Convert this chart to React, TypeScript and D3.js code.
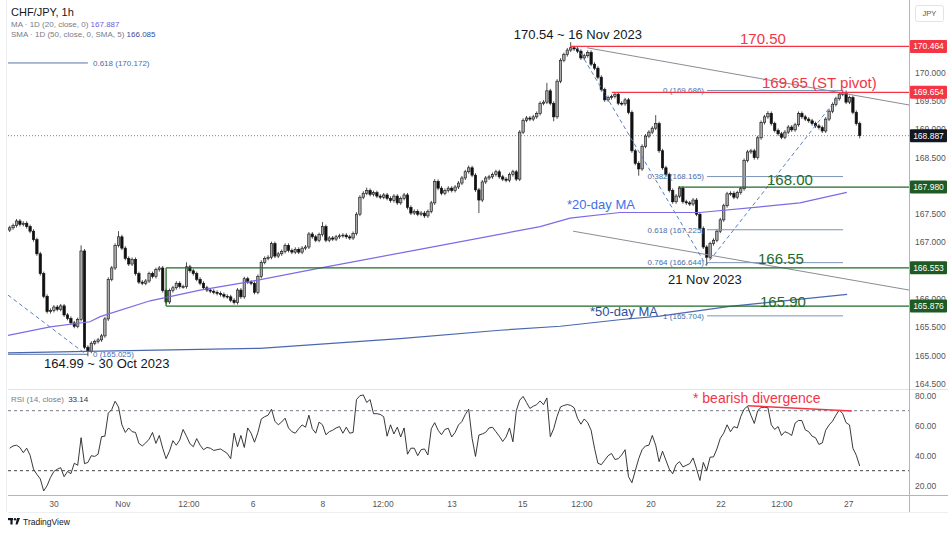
import React from "react";
import * as d3 from "d3";

// ---------- DATA ----------
const firstOpen = 167.22;
const closes = [
  167.26,167.30,167.38,167.32,167.34,167.28,167.20,167.05,166.80,166.45,
  166.05,165.78,165.80,165.86,165.82,165.88,165.72,165.66,165.58,165.52,
  165.64,166.85,165.15,165.08,165.22,165.25,165.28,165.35,165.65,166.35,
  166.55,166.95,167.10,166.90,166.72,166.62,166.70,166.45,166.30,166.28,
  166.32,166.45,166.40,166.52,166.55,166.15,165.95,166.15,166.20,166.28,
  166.22,166.22,166.57,166.50,166.45,166.35,166.28,166.20,166.16,166.14,
  166.12,166.10,166.08,166.05,166.04,165.98,165.94,166.16,166.04,166.36,
  166.30,166.28,166.12,166.40,166.65,166.72,166.74,166.98,166.76,166.80,
  166.84,166.95,166.86,166.83,166.88,166.83,166.90,166.92,167.15,167.10,
  167.04,167.14,167.28,167.04,167.08,167.06,167.10,167.12,167.13,167.10,
  167.08,167.16,167.50,167.80,167.87,167.92,167.85,167.88,167.82,167.80,
  167.84,167.78,167.74,167.82,167.70,167.78,167.84,167.62,167.52,167.55,
  167.50,167.52,167.47,167.55,167.70,168.08,167.96,167.87,167.92,167.96,
  167.92,167.98,168.05,168.14,168.25,168.32,168.19,167.93,167.75,168.07,
  168.14,168.16,168.20,168.25,168.16,168.12,168.10,168.20,168.25,168.12,
  168.95,169.16,169.20,169.18,169.22,169.28,169.46,169.48,169.68,169.46,
  169.22,169.85,170.22,170.32,170.40,170.44,170.42,170.38,170.26,170.30,
  170.36,170.15,170.08,169.92,169.70,169.52,169.56,169.58,169.62,169.46,
  169.45,169.52,169.30,168.62,168.40,168.30,168.70,168.88,168.95,169.02,
  169.10,168.62,168.32,168.20,167.92,167.72,167.82,167.96,167.72,167.70,
  167.68,167.75,167.50,167.25,166.92,166.74,166.98,167.04,167.20,167.40,
  167.65,167.86,167.87,167.80,167.88,167.95,168.45,168.60,168.62,168.50,
  168.85,169.12,169.22,169.28,169.10,168.98,168.92,168.86,168.95,169.04,
  168.99,169.08,169.28,169.22,169.18,169.15,169.10,169.06,169.03,168.97,
  169.18,169.32,169.44,169.54,169.62,169.65,169.48,169.56,169.30,169.10,
  168.887,
];
// [bar index, extreme price reached by the wick]
const wickExtremes: [number, number][] = [
  [21, 166.95], [23, 164.99], [32, 167.2], [52, 166.65], [92, 167.36], [105, 167.97],
  [125, 168.12], [135, 168.36], [138, 167.52], [158, 169.82], [160, 169.14], [165, 170.54],
  [185, 168.18], [190, 169.25], [205, 166.59], [223, 169.32], [245, 169.70], [250, 168.84],
];
const rsi = [
  45,46.5,47,45.5,42,45,40.3,31,27.5,24.5,
  16.5,20,25.5,29.5,31,32,26,29.5,28,35,
  33.6,52,34.7,35.5,40,39.5,41,52.7,53,68.4,
  70.7,76.3,72.5,60.6,55.5,58.5,56,55.5,48.2,46.5,
  48.5,51,55.5,48.2,53.5,45,38,43,50,47,
  50.4,57.5,53,48,46,51.4,47,44,45.5,45,
  43.5,44,44.5,43,41.5,38,55,46,53.5,45.5,
  58.5,55,49,55.5,64.5,66,67,71,63,60.6,
  62.5,65,58.5,56,55,58,60.5,59,67,58,
  55,62.4,60.6,54,56,57,58.5,59.4,55,59,
  55,55.5,77.4,80,80.5,75.5,77.4,68,68,67.5,
  66,53,60.6,54.5,59,52.5,58.5,41,45,45,
  40,44,44.5,40.5,58,62,57,54,57.5,58.3,
  52.5,55.5,60.5,62.8,67.5,71,51.6,39.5,53.8,54.5,
  55.6,58.5,59,56,53,49.5,52.5,58.5,49.3,70,
  77,79.5,75.5,71.5,73,74,76.5,74,78.5,52.7,
  58,66.2,72.5,73.5,74.1,73.5,72,65,61,64.5,
  62,57,45,35,34,37,40,41.5,37.5,38,
  40.5,44,26,22,30,38,44,46.5,47,53.5,
  47,36,43,37,31,28,34,36,32.5,33.6,
  34.7,38.5,31.3,23.5,35.5,30,39,39.2,44.5,51.6,
  55,60.6,56,59.4,58.5,66,71,73,67,61.5,
  70,72.2,72.2,72,60.6,57.5,59.4,53.5,56,55,
  53.5,61.7,63.5,63.4,57.2,56,53,52,47.5,48.5,
  57,60.5,63,67,70.5,68,62,60.5,45,40.3,
  33.14,
];
const ma20Idx = [-0.5, 11.9, 23.6, 26.6, 41.3, 56, 70.7, 90.4, 119.8, 156, 164.8, 179.5, 203, 220.7, 232.4, 238.3, 246.2];
const ma20Val = [165.36, 165.51, 165.6, 165.69, 165.97, 166.16, 166.31, 166.54, 166.87, 167.28, 167.43, 167.53, 167.53, 167.63, 167.7, 167.78, 167.887];
const ma50Idx = [-0.5, 26.6, 73.6, 114.8, 144.2, 162, 180, 191.2, 211.8, 246.3];
const ma50Val = [165.05, 165.08, 165.13, 165.3, 165.45, 165.52, 165.64, 165.7, 165.87, 166.085];

const timeTickIdx = [13.0, 33.3, 52.7, 71.6, 92.1, 109.8, 130.1, 150.9, 168.3, 188.6, 209.2, 227.1, 246.8];
const timeTickLabels = ["30", "Nov", "12:00", "6", "8", "12:00", "13", "15", "12:00", "20", "22", "12:00", "27"];
const priceTicks = [164.5, 165, 165.5, 166, 166.5, 167, 167.5, 168, 168.5, 169, 169.5, 170];
const rsiTicks = [20, 40, 60, 80];
const markerPrices = [170.464, 169.654, 168.887, 167.98, 166.553, 165.876];
const markerKinds = ["r", "r", "k", "g", "g", "g"];
const lastPrice = 168.887;

// fib (right) levels
const fibRatios = ["0", "0.382", "0.618", "0.764", "1"];
const fibPrices = [169.686, 168.165, 167.225, 166.644, 165.704];
const fibStartIdx = 205.1, fibEndIdx = 245.1;
// fib (left) levels
const fibLeftRatios = ["0.618", "0"];
const fibLeftPrices = [170.172, 165.025];

// horizontal level drawings [startIdx, price]
const redLevels: [number, number][] = [[164.8, 170.464], [177.1, 169.654]];
const greenLevels: [number, number][] = [[196.6, 167.98], [46, 166.553], [46, 165.876]];

// dashed fib trend lines [idx, price]
const dashLeft: [number, number][] = [[-0.5, 166.07], [21.9, 165.05]];
const dashRight: [number, number][] = [[166.9, 170.45], [204.8, 166.6], [245.1, 169.686]];
// grey channel
const chanUpper: [number, number][] = [[169.8, 170.44], [264.5, 169.43]];
const chanLower: [number, number][] = [[165.7, 167.2], [264.5, 166.16]];
// rsi divergence
const rsiDiv: [number, number][] = [[217.1, 73.3], [247.7, 69.8]];

const F = "'Liberation Sans', Arial, sans-serif";

export default function App() {
  const L = 8, R = 909;
  const x = d3.scaleLinear().domain([-0.5, 264.5]).range([L, R]);
  const y = d3.scaleLinear().domain([164.5, 170]).range([384, 72.7]);
  const yr = d3.scaleLinear().domain([20, 80]).range([485.7, 395.7]);
  const bw = 2.4;

  const wmap = new Map<number, number[]>();
  wickExtremes.forEach(([i, p]) => { wmap.set(i, [...(wmap.get(i) || []), p]); });
  const candles = closes.map((c, i) => {
    const o = i === 0 ? firstOpen : closes[i - 1];
    let h = Math.max(o, c) + 0.035;
    let l = Math.min(o, c) - 0.035;
    (wmap.get(i) || []).forEach((p) => { if (p > h) h = p; if (p < l) l = p; });
    return { i, o, c, h, l };
  });

  const pl = d3.line<[number, number]>().x((d) => x(d[0])).y((d) => y(d[1]));
  const rdl = d3.line<[number, number]>().x((d) => x(d[0])).y((d) => yr(d[1]));
  const rl = d3.line<number>().x((_, i) => x(i)).y((d) => yr(d));
  const ma20 = ma20Idx.map((v, i) => [v, ma20Val[i]] as [number, number]);
  const ma50 = ma50Idx.map((v, i) => [v, ma50Val[i]] as [number, number]);

  const mColor = (k: string) => (k === "r" ? "#f23645" : k === "k" ? "#131722" : "#1e5a24");
  const green = "#1f6b28";
  const red = "#f23645";
  const fibCol = "#7d94b5";
  const fibTxt = "#4a6ea8";

  // axis ticks that would sit fully under a price marker are hidden, as on the reference
  const visibleTicks = priceTicks.filter((p) => markerPrices.every((m) => Math.abs(y(p) - y(m)) > 5));

  return (
    <div style={{ position: "absolute", left: 0, top: 0, width: 950, height: 535, background: "#fff" }}>
      <svg width={950} height={535} style={{ display: "block" }}>
        <defs>
          <clipPath id="pc"><rect x={L} y={0} width={R - L} height={389} /></clipPath>
          <clipPath id="rc"><rect x={L} y={390} width={R - L} height={105} /></clipPath>
        </defs>
        <rect x={0} y={0} width={950} height={535} fill="#fff" />

        {/* pane separators & axes */}
        <line x1={L} x2={948} y1={389.5} y2={389.5} stroke="#e0e3eb" />
        <line x1={L} x2={948} y1={495.5} y2={495.5} stroke="#b2b5be" />
        <line x1={R + 0.5} x2={R + 0.5} y1={0} y2={512} stroke="#b2b5be" />
        <line x1={L} x2={948} y1={512.5} y2={512.5} stroke="#eceef2" />
        <line x1={6.5} x2={6.5} y1={0} y2={512} stroke="#eceef2" />

        {/* price pane */}
        <g clipPath="url(#pc)">
          <line x1={L} x2={R} y1={y(lastPrice)} y2={y(lastPrice)} stroke="#666" strokeDasharray="1,2" strokeWidth={0.8} />

          {fibLeftPrices.map((p, k) => (
            <g key={"fl" + k}>
              <line x1={x(-0.5)} x2={x(23)} y1={y(p)} y2={y(p)} stroke="#5873a8" strokeWidth={1} />
              <text x={x(24.5)} y={y(p)} dy="0.35em" fontSize={8} fill={fibTxt} fontFamily={F}>{`${fibLeftRatios[k]} (${p.toFixed(3)})`}</text>
            </g>
          ))}
          <path d={pl(dashLeft) || ""} fill="none" stroke="#5b7fbf" strokeDasharray="4,3" strokeWidth={1} />

          {candles.map((d) => {
            const cx = x(d.i);
            const up = d.c >= d.o;
            const top = y(Math.max(d.o, d.c));
            const bot = y(Math.min(d.o, d.c));
            return (
              <g key={d.i}>
                <line x1={cx} x2={cx} y1={y(d.h)} y2={y(d.l)} stroke="#222" strokeWidth={0.8} />
                <rect x={cx - bw / 2} y={top} width={bw} height={Math.max(0.8, bot - top)} fill={up ? "#a8a8a8" : "#111"} stroke="#111" strokeWidth={0.6} />
              </g>
            );
          })}

          <path d={pl(ma50) || ""} fill="none" stroke="#4a67b0" strokeWidth={1.2} />
          <path d={pl(ma20) || ""} fill="none" stroke="#7b6be6" strokeWidth={1.2} />

          <path d={pl(chanUpper) || ""} fill="none" stroke="#8a8d95" strokeWidth={1} />
          <path d={pl(chanLower) || ""} fill="none" stroke="#8a8d95" strokeWidth={1} />

          {fibPrices.map((p, k) => (
            <g key={"fr" + k}>
              <line x1={x(fibStartIdx)} x2={x(fibEndIdx)} y1={y(p)} y2={y(p)} stroke={fibCol} strokeWidth={1} />
              <text x={x(fibStartIdx) - 3} y={y(p)} dy="0.35em" textAnchor="end" fontSize={8} fill={fibTxt} fontFamily={F}>{`${fibRatios[k]} (${p.toFixed(3)})`}</text>
            </g>
          ))}
          <path d={pl(dashRight) || ""} fill="none" stroke="#5b7fbf" strokeDasharray="4,3" strokeWidth={1} />

          {redLevels.map(([s, p], k) => (
            <line key={"rl" + k} x1={x(s)} x2={R} y1={y(p)} y2={y(p)} stroke={red} strokeWidth={1.3} />
          ))}
          {greenLevels.map(([s, p], k) => (
            <line key={"gl" + k} x1={x(s)} x2={R} y1={y(p)} y2={y(p)} stroke={green} strokeWidth={1.3} />
          ))}
          <line x1={x(greenLevels[1][0])} x2={x(greenLevels[1][0])} y1={y(greenLevels[1][1])} y2={y(greenLevels[2][1])} stroke={green} strokeWidth={1.3} />

          <text x={642} y={39} textAnchor="end" fontSize={13} fill="#131722" fontFamily={F}>170.54 ~ 16 Nov 2023</text>
          <text x={44} y={368} fontSize={13} fill="#131722" fontFamily={F}>164.99 ~ 30 Oct 2023</text>
          <text x={668} y={284} fontSize={13} fill="#131722" fontFamily={F}>21 Nov 2023</text>
          <text x={740} y={44} fontSize={15} fill={red} fontFamily={F}>170.50</text>
          <text x={762} y={88} fontSize={15} fill={red} fontFamily={F}>169.65 (ST pivot)</text>
          <text x={767} y={185} fontSize={15} fill={green} fontFamily={F}>168.00</text>
          <text x={758} y={264} fontSize={15} fill={green} fontFamily={F}>166.55</text>
          <text x={760} y={307} fontSize={15} fill={green} fontFamily={F}>165.90</text>
          <text x={567} y={209} fontSize={13} fill="#3f6fe8" fontFamily={F}>*20-day MA</text>
          <text x={590} y={316} fontSize={13} fill="#2d4f9e" fontFamily={F}>*50-day MA</text>
        </g>

        <text x={11} y={15.5} fontSize={11} fill="#131722" fontFamily={F}>CHF/JPY, 1h</text>
        <text x={11} y={27} fontSize={8} fill="#787b86" fontFamily={F}>
          MA · 1D (20, close, 0) <tspan fill="#6f5ce0">{ma20Val[ma20Val.length - 1].toFixed(3)}</tspan>
        </text>
        <text x={11} y={37} fontSize={8} fill="#787b86" fontFamily={F}>
          SMA · 1D (50, close, 0, SMA, 5) <tspan fill="#2f4f9e">{ma50Val[ma50Val.length - 1].toFixed(3)}</tspan>
        </text>

        <g clipPath="url(#rc)">
          <line x1={L} x2={R} y1={yr(70)} y2={yr(70)} stroke="#787b86" strokeDasharray="3,3" strokeWidth={1} />
          <line x1={L} x2={R} y1={yr(30)} y2={yr(30)} stroke="#444" strokeDasharray="3,3" strokeWidth={1} />
          <path d={rl(rsi) || ""} fill="none" stroke="#222" strokeWidth={0.9} />
          <path d={rdl(rsiDiv) || ""} fill="none" stroke={red} strokeWidth={1.5} />
          <text x={693} y={403} fontSize={14} fill={red} fontFamily={F}>* bearish divergence</text>
        </g>
        <text x={11} y={402} fontSize={8} fill="#787b86" fontFamily={F}>
          RSI (14, close) <tspan dx={2} fill="#333">{rsi[rsi.length - 1].toFixed(2)}</tspan>
        </text>

        {visibleTicks.map((p) => (
          <text key={"pt" + p} x={915} y={y(p)} dy="0.35em" fontSize={8.5} fill="#555" fontFamily={F}>{p.toFixed(3)}</text>
        ))}
        {markerPrices.map((p, k) => (
          <g key={"mk" + k}>
            <rect x={910} y={y(p) - 6.5} width={37} height={13} fill={mColor(markerKinds[k])} rx={1} />
            <text x={928.5} y={y(p)} dy="0.35em" textAnchor="middle" fontSize={8.5} fill="#fff" fontFamily={F}>{p.toFixed(3)}</text>
          </g>
        ))}
        <rect x={915.5} y={5.5} width={28} height={16} rx={2} fill="#fff" stroke="#e0e3eb" />
        <text x={929.5} y={13.5} dy="0.35em" textAnchor="middle" fontSize={7.5} fill="#555" fontFamily={F}>JPY</text>

        {rsiTicks.map((v) => (
          <text key={"rt" + v} x={915} y={yr(v)} dy="0.35em" fontSize={8.5} fill="#555" fontFamily={F}>{v.toFixed(2)}</text>
        ))}

        {timeTickIdx.map((t, k) => (
          <text key={"tt" + k} x={x(t)} y={507} textAnchor="middle" fontSize={8.5} fill="#555" fontFamily={F}>{timeTickLabels[k]}</text>
        ))}

        <g transform="translate(8,518)">
          <rect x={0} y={0} width={5} height={2.2} fill="#131722" />
          <rect x={2.4} y={0} width={2.2} height={6.5} fill="#131722" />
          <circle cx={7} cy={1.2} r={1.2} fill="#131722" />
          <path d="M9 0 L12 0 L9.5 6.5 L7.5 6.5 Z" fill="#131722" />
          <text x={15} y={6.5} fontSize={8.5} fill="#131722" fontFamily={F}>TradingView</text>
        </g>
      </svg>
    </div>
  );
}
